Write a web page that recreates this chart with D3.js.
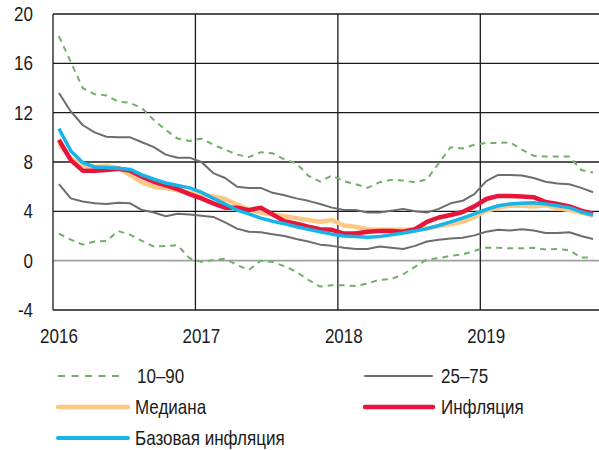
<!DOCTYPE html>
<html>
<head>
<meta charset="utf-8">
<script src="https://cdn.jsdelivr.net/npm/d3@7"></script>
<style>
  body { margin: 0; background: #fff; }
  svg text { font-family: "Liberation Sans", Arial, sans-serif; fill: #1a1a1a; }
</style>
</head>
<body>
<svg id="chart" width="599" height="450"></svg>
<script>
// monthly, Jan 2016 .. Oct 2019
const p10 = [2.2, 1.7, 1.3, 1.55, 1.6, 2.4, 2.1, 1.6, 1.15, 1.2, 1.25, 0.2,
  -0.1, 0.05, 0.15, -0.35, -0.75, 0.0, -0.1, -0.45, -0.9, -1.55, -2.1, -2.0,
  -2.0, -2.05, -1.85, -1.55, -1.5, -1.1, -0.5, 0.1, 0.2, 0.4, 0.5, 0.8,
  1.05, 1.05, 1.0, 1.0, 1.05, 0.9, 0.95, 0.85, 0.25, 0.25];
const p90 = [18.2, 16.1, 14.0, 13.5, 13.4, 12.9, 12.8, 12.35, 11.4, 10.6, 9.9, 9.7,
  9.9, 9.4, 9.0, 8.6, 8.4, 8.8, 8.7, 8.2, 7.9, 6.9, 6.4, 6.9,
  6.45, 6.2, 5.9, 6.35, 6.55, 6.5, 6.35, 6.6, 7.9, 9.2, 9.1, 9.4,
  9.55, 9.55, 9.6, 9.0, 8.5, 8.45, 8.45, 8.45, 7.35, 7.15];
const p25 = [6.2, 5.05, 4.8, 4.65, 4.6, 4.7, 4.65, 4.1, 3.9, 3.6, 3.8, 3.75,
  3.65, 3.55, 3.1, 2.6, 2.35, 2.3, 2.15, 2.0, 1.75, 1.55, 1.3, 1.2,
  1.05, 0.95, 0.95, 1.15, 1.05, 0.95, 1.2, 1.55, 1.7, 1.8, 1.85, 2.05,
  2.35, 2.5, 2.45, 2.55, 2.45, 2.25, 2.25, 2.3, 2.0, 1.75];
const p75 = [13.6, 12.1, 11.0, 10.4, 10.05, 10.0, 10.0, 9.6, 9.2, 8.6, 8.35, 8.35,
  8.0, 7.1, 6.7, 6.0, 5.9, 5.9, 5.5, 5.3, 5.05, 4.85, 4.6, 4.3,
  4.1, 4.1, 3.9, 3.9, 4.05, 4.2, 4.0, 3.9, 4.2, 4.65, 4.85, 5.4,
  6.45, 6.95, 6.95, 6.9, 6.7, 6.4, 6.25, 6.2, 5.9, 5.55];
const median = [9.5, 8.3, 7.75, 7.6, 7.7, 7.5, 6.95, 6.35, 6.0, 5.9, 5.7, 5.5,
  5.4, 5.2, 5.0, 4.55, 4.15, 3.9, 3.75, 3.6, 3.45, 3.3, 3.15, 3.3,
  2.85, 2.75, 2.55, 2.5, 2.5, 2.5, 2.5, 2.6, 2.8, 2.95, 3.15, 3.55,
  4.05, 4.3, 4.45, 4.45, 4.4, 4.5, 4.25, 4.1, 3.9, 3.65];
const inflation = [9.8, 8.15, 7.3, 7.3, 7.35, 7.45, 7.3, 6.8, 6.4, 6.1, 5.8, 5.4,
  5.05, 4.65, 4.3, 4.3, 4.1, 4.3, 3.75, 3.2, 3.0, 2.75, 2.55, 2.5,
  2.2, 2.2, 2.35, 2.4, 2.4, 2.35, 2.55, 3.15, 3.5, 3.7, 3.95, 4.4,
  5.0, 5.25, 5.25, 5.2, 5.15, 4.75, 4.6, 4.4, 4.05, 3.8];
const core = [10.7, 8.9, 7.95, 7.6, 7.55, 7.5, 7.4, 6.95, 6.6, 6.3, 6.1, 5.9,
  5.55, 5.05, 4.6, 4.1, 3.8, 3.45, 3.2, 3.0, 2.75, 2.55, 2.35, 2.15,
  2.0, 1.95, 1.9, 1.95, 2.1, 2.25, 2.4, 2.6, 2.85, 3.15, 3.45, 3.8,
  4.15, 4.45, 4.6, 4.65, 4.7, 4.6, 4.45, 4.3, 3.95, 3.7];

const years = ["2016", "2017", "2018", "2019"];
const yTicks = [-4, 0, 4, 8, 12, 16, 20];

const svg = d3.select("#chart");
const plotLeft = 53, plotRight = 599, plotTop = 14, plotBottom = 310;
const squeeze = 0.85; // the original font is a narrow one

const x = d3.scaleLinear().domain([0, p10.length]).range([plotLeft, plotRight]);
const y = d3.scaleLinear().domain([-4, 20]).range([plotBottom, plotTop]);

// -- grid --
svg.append("g").selectAll("line")
  .data(yTicks)
  .join("line")
  .attr("x1", plotLeft).attr("x2", plotRight)
  .attr("y1", d => y(d)).attr("y2", d => y(d))
  .attr("stroke", d => d === 0 ? "#a0a0a0" : "#1a1a1a")
  .attr("stroke-width", d => d === 0 ? 1.6 : 1.3);

svg.append("g").selectAll("line")
  .data(years)
  .join("line")
  .attr("x1", (d, i) => x(i * 12)).attr("x2", (d, i) => x(i * 12))
  .attr("y1", plotTop).attr("y2", plotBottom)
  .attr("stroke", "#1a1a1a")
  .attr("stroke-width", 1.3);

// y labels
svg.append("g").selectAll("text")
  .data(yTicks)
  .join("text")
  .attr("transform", d => `translate(33,${y(d)}) scale(${squeeze},1)`)
  .attr("text-anchor", "end")
  .attr("dominant-baseline", "central")
  .style("font-size", "20px")
  .text(d => d);

// x labels
svg.append("g").selectAll("text")
  .data(years)
  .join("text")
  .attr("transform", (d, i) => `translate(${x(i * 12 + 0.5)},336) scale(${squeeze},1)`)
  .attr("text-anchor", "middle")
  .attr("dominant-baseline", "central")
  .style("font-size", "20px")
  .text(d => d);

// -- series --
const line = d3.line().x((d, i) => x(i + 0.5)).y(d => y(d));

const series = [
  { data: p10, color: "#72b06a", width: 2, dash: "6,5" },
  { data: p90, color: "#72b06a", width: 2, dash: "6,5" },
  { data: p25, color: "#6d6d6d", width: 2, dash: null },
  { data: p75, color: "#6d6d6d", width: 2, dash: null },
  { data: median, color: "#fdc784", width: 4.5, dash: null },
  { data: inflation, color: "#e8153a", width: 4.5, dash: null },
  { data: core, color: "#17b4e8", width: 3.5, dash: null }
];

svg.append("g").selectAll("path")
  .data(series)
  .join("path")
  .attr("d", d => line(d.data))
  .attr("fill", "none")
  .attr("stroke", d => d.color)
  .attr("stroke-width", d => d.width)
  .attr("stroke-dasharray", d => d.dash)
  .attr("stroke-linejoin", "round");

// -- legend --
const legend = [
  { label: "10–90", color: "#72b06a", width: 2, dash: "7,6.5", x: 58, len: 62, tx: 137, y: 376 },
  { label: "25–75", color: "#6d6d6d", width: 2, dash: null, x: 365, len: 67, tx: 441, y: 376 },
  { label: "Медиана", color: "#fdc784", width: 4.5, dash: null, x: 58, len: 70, tx: 135, y: 407 },
  { label: "Инфляция", color: "#e8153a", width: 4.5, dash: null, x: 365, len: 68, tx: 441, y: 407 },
  { label: "Базовая инфляция", color: "#17b4e8", width: 4, dash: null, x: 58, len: 70, tx: 135, y: 438 }
];

const lg = svg.append("g").selectAll("g")
  .data(legend)
  .join("g");

lg.append("line")
  .attr("x1", d => d.x).attr("x2", d => d.x + d.len)
  .attr("y1", d => d.y).attr("y2", d => d.y)
  .attr("stroke", d => d.color)
  .attr("stroke-width", d => d.width)
  .attr("stroke-dasharray", d => d.dash)
  .attr("stroke-linecap", d => d.dash ? "butt" : "round");

lg.append("text")
  .attr("transform", d => `translate(${d.tx},${d.y}) scale(${squeeze},1)`)
  .attr("dominant-baseline", "central")
  .style("font-size", "20px")
  .text(d => d.label);
</script>
</body>
</html>
